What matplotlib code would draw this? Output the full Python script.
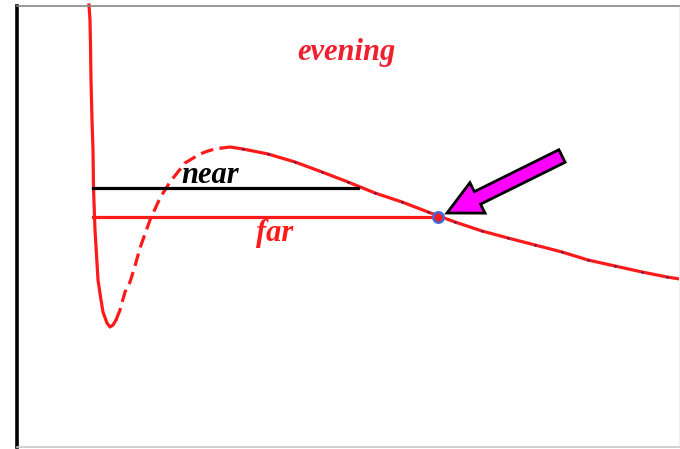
import matplotlib.pyplot as plt
from matplotlib.patches import FancyArrow

r_left = [89, 90, 90.5, 91, 92, 93, 93.5, 95, 97, 98, 101, 103, 107, 110, 113, 116]
v_left = [444, 429, 404, 369, 329, 299, 261, 219, 186, 169, 149, 137, 126, 122, 124, 129]
r_dash = [116, 120, 125, 130, 135, 140, 145, 150, 160, 170, 185, 200, 208, 215, 222]
v_dash = [129, 139, 157, 167, 183, 201, 215, 229, 251, 267, 286, 295, 298, 300, 301]
r_right = [222, 230, 243, 268, 295, 322, 348, 375, 402, 428, 455, 482, 508,
           535, 562, 588, 615, 642, 667, 680]
v_right = [301, 302, 300, 295, 287, 277, 267, 256, 247, 237, 227, 218, 211,
           204, 197, 189, 183, 177, 172, 170]

near_x, near_v = [93, 358], 261
far_x, far_v = [93, 438], 232
point = (438, 232)
arrow_tail, arrow_tip = (562, 293), (447, 236)

fig = plt.figure(figsize=(6.8, 4.49), dpi=100)
ax = fig.add_axes([17 / 680, 2 / 449, 662 / 680, 441 / 449])
ax.set_xlim(17, 679)
ax.set_ylim(2, 443)
ax.set_xticks([])
ax.set_yticks([])
ax.spines['left'].set_color('black')
ax.spines['left'].set_linewidth(2.6)
ax.spines['top'].set_color('#888888')
ax.spines['top'].set_linewidth(1.2)
ax.spines['bottom'].set_color('#c8c8c8')
ax.spines['bottom'].set_linewidth(1.2)
ax.spines['right'].set_color('#eeeeee')

red = '#ff1a1a'
ax.plot(r_left, v_left, color=red, lw=2.3, clip_on=False)
ax.plot(r_dash, v_dash, color=red, lw=2.3, ls=(0, (4, 2)))
ax.plot(r_right, v_right, color=red, lw=2.3, clip_on=False)
# small dark sample dots along the curve
ax.plot(r_right[2:-1], v_right[2:-1], 'o', ms=1.6, color='#1a1a80', mew=0, zorder=4)

ax.plot(near_x, [near_v] * 2, color='black', lw=2.3)
ax.plot(far_x, [far_v] * 2, color=red, lw=2.3)

ax.plot(*point, 'o', ms=7.5, mfc=red, mec='#4466dd', mew=1.8, zorder=5)

dx = arrow_tip[0] - arrow_tail[0]
dy = arrow_tip[1] - arrow_tail[1]
ax.add_patch(FancyArrow(arrow_tail[0], arrow_tail[1], dx, dy, width=14,
                        head_width=34, head_length=34, length_includes_head=True,
                        fc='#ff00ff', ec='black', lw=2, zorder=6))

font = dict(family='Liberation Serif', style='italic', weight='bold', fontsize=22)
ax.text(210, 266, 'near', color='black', ha='center', va='baseline', **font)
ax.text(275, 208, 'far', color=red, ha='center', va='baseline', **font)
ax.text(346, 389, 'evening', color='#ee2030', ha='center', va='baseline', **font)

fig.savefig('out.png', dpi=100, facecolor='white')
